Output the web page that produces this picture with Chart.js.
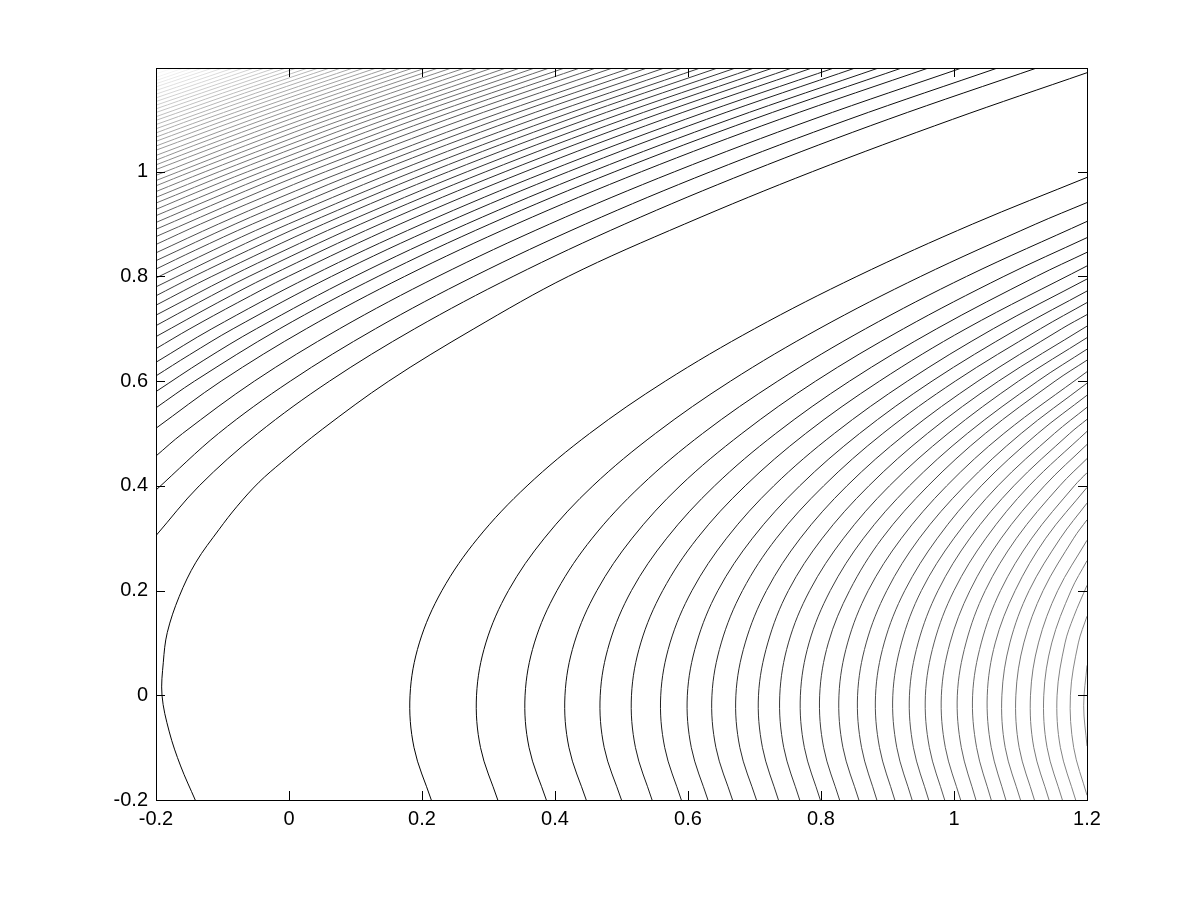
<!DOCTYPE html>
<html>
<head>
<meta charset="utf-8">
<script src="https://cdn.jsdelivr.net/npm/chart.js@4.4.1/dist/chart.umd.min.js"></script>
<style>
  html, body { margin: 0; padding: 0; background: #fff; }
  #wrap { width: 1201px; height: 900px; }
</style>
</head>
<body>
<div id="wrap"><canvas id="grafica" width="1201" height="900"></canvas></div>
<script>
// axis ticks
const xTicks = [-0.2, 0, 0.2, 0.4, 0.6, 0.8, 1, 1.2];
const yTicks = [-0.2, 0, 0.2, 0.4, 0.6, 0.8, 1];

// level of each contour (only used for the grey shade of the line)
const valleyLevel = 0.036;
const upperLevels = [
    0.082, 0.120, 0.160, 0.203, 0.240, 0.276, 0.314, 0.350, 0.391, 0.429,
    0.468, 0.507, 0.548, 0.588, 0.629, 0.672, 0.717, 0.762, 0.810, 0.856,
    0.902, 0.948, 0.994, 1.040, 1.086, 1.132, 1.178, 1.224, 1.270, 1.316,
    1.362, 1.408, 1.454, 1.500, 1.546, 1.592, 1.638, 1.684, 1.730, 1.776,
    1.822, 1.868, 1.914, 1.960, 2.006, 2.052, 2.098, 2.144, 2.190, 2.236,
    2.282, 2.328, 2.374, 2.420, 2.466, 2.512, 2.558
];
const rightLevels = [
    0.033, 0.080, 0.126, 0.172, 0.219, 0.266, 0.312, 0.359, 0.405, 0.452,
    0.498, 0.545, 0.591, 0.637, 0.684, 0.731, 0.778, 0.824, 0.870, 0.916,
    0.962, 1.010, 1.056, 1.102, 1.149, 1.195, 1.243, 1.288, 1.334, 1.381,
    1.428
];

// lowest contour on the left, turning round near x = -0.19
const valleyCurve = [
    [-0.141, -0.2], [-0.163, -0.135], [-0.180, -0.07], [-0.191, 0.0], [-0.189, 0.063],
    [-0.183, 0.12], [-0.165, 0.189], [-0.140, 0.254], [-0.105, 0.317], [-0.078, 0.361],
    [-0.045, 0.407], [-0.011, 0.445], [0.050, 0.508], [0.150, 0.6], [0.278, 0.7],
    [0.420, 0.8], [0.595, 0.9], [0.787, 1.0], [0.998, 1.1], [1.2, 1.189]
];

// contours that come in from the left edge and leave at the top
const upperContours = [
    [[-0.2, 0.305], [-0.135, 0.4], [-0.047, 0.5], [0.061, 0.6], [0.189, 0.7], [0.337, 0.8], [0.505, 0.9], [0.693, 1.0], [0.901, 1.1], [1.129, 1.2]],
    [[-0.2, 0.392], [-0.106, 0.5], [0.002, 0.6], [0.130, 0.7], [0.278, 0.8], [0.446, 0.9], [0.634, 1.0], [0.842, 1.1], [1.070, 1.2]],
    [[-0.2, 0.457], [-0.160, 0.5], [-0.052, 0.6], [0.076, 0.7], [0.224, 0.8], [0.392, 0.9], [0.580, 1.0], [0.788, 1.1], [1.016, 1.2]],
    [[-0.2, 0.510], [-0.102, 0.6], [0.026, 0.7], [0.174, 0.8], [0.342, 0.9], [0.530, 1.0], [0.738, 1.1], [0.966, 1.2]],
    [[-0.2, 0.549], [-0.142, 0.6], [-0.014, 0.7], [0.134, 0.8], [0.302, 0.9], [0.490, 1.0], [0.698, 1.1], [0.926, 1.2]],
    [[-0.2, 0.580], [-0.128, 0.64], [-0.049, 0.7], [0.099, 0.8], [0.267, 0.9], [0.455, 1.0], [0.663, 1.1], [0.891, 1.2]],
    [[-0.2, 0.610], [-0.150, 0.65], [-0.084, 0.7], [0.064, 0.8], [0.232, 0.9], [0.420, 1.0], [0.628, 1.1], [0.856, 1.2]],
    [[-0.2, 0.636], [-0.116, 0.7], [0.032, 0.8], [0.200, 0.9], [0.388, 1.0], [0.596, 1.1], [0.824, 1.2]],
    [[-0.2, 0.662], [-0.149, 0.7], [-0.077, 0.75], [-0.001, 0.8], [0.167, 0.9], [0.355, 1.0], [0.563, 1.1], [0.791, 1.2]],
    [[-0.2, 0.685], [-0.107, 0.75], [-0.031, 0.8], [0.137, 0.9], [0.325, 1.0], [0.533, 1.1], [0.761, 1.2]],
    [[-0.2, 0.706], [-0.136, 0.75], [-0.060, 0.8], [0.108, 0.9], [0.296, 1.0], [0.504, 1.1], [0.732, 1.2]],
    [[-0.2, 0.726], [-0.088, 0.8], [-0.006, 0.85], [0.080, 0.9], [0.268, 1.0], [0.476, 1.1], [0.704, 1.2]],
    [[-0.2, 0.745], [-0.116, 0.8], [0.052, 0.9], [0.240, 1.0], [0.448, 1.1], [0.676, 1.2]],
    [[-0.2, 0.763], [-0.143, 0.8], [-0.061, 0.85], [0.025, 0.9], [0.213, 1.0], [0.421, 1.1], [0.649, 1.2]],
    [[-0.2, 0.780], [-0.087, 0.85], [-0.001, 0.9], [0.187, 1.0], [0.395, 1.1], [0.623, 1.2]],
    [[-0.2, 0.797], [-0.114, 0.85], [-0.028, 0.9], [0.160, 1.0], [0.368, 1.1], [0.596, 1.2]],
    [[-0.2, 0.814], [-0.141, 0.85], [-0.055, 0.9], [0.133, 1.0], [0.341, 1.1], [0.569, 1.2]],
    [[-0.2, 0.830], [-0.081, 0.9], [0.011, 0.95], [0.107, 1.0], [0.315, 1.1], [0.543, 1.2]],
    [[-0.2, 0.845], [-0.106, 0.9], [-0.015, 0.95], [0.082, 1.0], [0.290, 1.1], [0.518, 1.2]],
    [[-0.2, 0.861], [-0.133, 0.9], [-0.041, 0.95], [0.055, 1.0], [0.263, 1.1], [0.491, 1.2]],
    [[-0.2, 0.876], [-0.066, 0.95], [0.030, 1.0], [0.238, 1.1], [0.466, 1.2]],
    [[-0.2, 0.890], [-0.090, 0.95], [0.006, 1.0], [0.214, 1.1], [0.442, 1.2]],
    [[-0.2, 0.903], [-0.113, 0.95], [-0.017, 1.0], [0.191, 1.1], [0.419, 1.2]],
    [[-0.2, 0.916], [-0.136, 0.95], [-0.040, 1.0], [0.168, 1.1], [0.396, 1.2]],
    [[-0.2, 0.928], [-0.140, 0.96], [-0.062, 1.0], [0.146, 1.1], [0.374, 1.2]],
    [[-0.2, 0.940], [-0.084, 1.0], [0.018, 1.05], [0.124, 1.1], [0.352, 1.2]],
    [[-0.2, 0.951], [-0.105, 1.0], [-0.003, 1.05], [0.103, 1.1], [0.331, 1.2]],
    [[-0.2, 0.962], [-0.126, 1.0], [-0.024, 1.05], [0.082, 1.1], [0.310, 1.2]],
    [[-0.2, 0.973], [-0.147, 1.0], [-0.045, 1.05], [0.061, 1.1], [0.289, 1.2]],
    [[-0.2, 0.983], [-0.065, 1.05], [0.041, 1.1], [0.153, 1.15], [0.269, 1.2]],
    [[-0.2, 0.993], [-0.085, 1.05], [0.021, 1.1], [0.133, 1.15], [0.249, 1.2]],
    [[-0.2, 1.004], [-0.105, 1.05], [0.001, 1.1], [0.113, 1.15], [0.229, 1.2]],
    [[-0.2, 1.013], [-0.124, 1.05], [-0.018, 1.1], [0.094, 1.15], [0.210, 1.2]],
    [[-0.2, 1.022], [-0.143, 1.05], [-0.037, 1.1], [0.075, 1.15], [0.191, 1.2]],
    [[-0.2, 1.031], [-0.055, 1.1], [0.057, 1.15], [0.173, 1.2]],
    [[-0.2, 1.041], [-0.074, 1.1], [0.038, 1.15], [0.154, 1.2]],
    [[-0.2, 1.049], [-0.092, 1.1], [0.020, 1.15], [0.136, 1.2]],
    [[-0.2, 1.058], [-0.110, 1.1], [0.002, 1.15], [0.118, 1.2]],
    [[-0.2, 1.066], [-0.127, 1.1], [-0.015, 1.15], [0.101, 1.2]],
    [[-0.2, 1.074], [-0.145, 1.1], [-0.033, 1.15], [0.083, 1.2]],
    [[-0.2, 1.082], [-0.050, 1.15], [0.066, 1.2]],
    [[-0.2, 1.090], [-0.067, 1.15], [0.049, 1.2]],
    [[-0.2, 1.098], [-0.083, 1.15], [0.033, 1.2]],
    [[-0.2, 1.105], [-0.100, 1.15], [0.016, 1.2]],
    [[-0.2, 1.113], [-0.116, 1.15], [0.000, 1.2]],
    [[-0.2, 1.120], [-0.132, 1.15], [-0.016, 1.2]],
    [[-0.2, 1.127], [-0.032, 1.2]],
    [[-0.2, 1.134], [-0.048, 1.2]],
    [[-0.2, 1.141], [-0.064, 1.2]],
    [[-0.2, 1.148], [-0.079, 1.2]],
    [[-0.2, 1.155], [-0.095, 1.2]],
    [[-0.2, 1.162], [-0.110, 1.2]],
    [[-0.2, 1.168], [-0.125, 1.2]],
    [[-0.2, 1.174], [-0.140, 1.2]],
    [[-0.2, 1.180], [-0.154, 1.2]],
    [[-0.2, 1.187], [-0.169, 1.2]],
    [[-0.2, 1.193], [-0.183, 1.2]]
];

// contours opening to the right (from the bottom edge round to the right edge)
const rightContours = [
    [[0.214, -0.2], [0.188, -0.1], [0.182, 0], [0.196, 0.1], [0.230, 0.2], [0.284, 0.3], [0.358, 0.4], [0.452, 0.5], [0.566, 0.6], [0.700, 0.7], [0.854, 0.8], [1.028, 0.9], [1.2, 0.989]],
    [[0.314, -0.2], [0.288, -0.1], [0.282, 0], [0.296, 0.1], [0.330, 0.2], [0.384, 0.3], [0.457, 0.4], [0.551, 0.5], [0.664, 0.6], [0.797, 0.7], [0.950, 0.8], [1.123, 0.9], [1.2, 0.941]],
    [[0.387, -0.2], [0.361, -0.1], [0.355, 0], [0.369, 0.1], [0.403, 0.2], [0.456, 0.3], [0.529, 0.4], [0.622, 0.5], [0.735, 0.6], [0.867, 0.7], [1.019, 0.8], [1.2, 0.905]],
    [[0.447, -0.2], [0.421, -0.1], [0.415, 0], [0.429, 0.1], [0.463, 0.2], [0.516, 0.3], [0.588, 0.4], [0.681, 0.5], [0.792, 0.6], [0.924, 0.7], [1.075, 0.8], [1.2, 0.874]],
    [[0.500, -0.2], [0.474, -0.1], [0.468, 0], [0.482, 0.1], [0.515, 0.2], [0.568, 0.3], [0.640, 0.4], [0.732, 0.5], [0.843, 0.6], [0.974, 0.7], [1.124, 0.8], [1.2, 0.846]],
    [[0.546, -0.2], [0.521, -0.1], [0.515, 0], [0.529, 0.1], [0.562, 0.2], [0.614, 0.3], [0.686, 0.4], [0.777, 0.5], [0.888, 0.6], [1.018, 0.7], [1.2, 0.820]],
    [[0.590, -0.2], [0.565, -0.1], [0.559, 0], [0.573, 0.1], [0.606, 0.2], [0.658, 0.3], [0.729, 0.4], [0.820, 0.5], [0.930, 0.6], [1.059, 0.7], [1.2, 0.795]],
    [[0.630, -0.2], [0.605, -0.1], [0.599, 0], [0.613, 0.1], [0.645, 0.2], [0.697, 0.3], [0.768, 0.4], [0.858, 0.5], [0.967, 0.6], [1.096, 0.7], [1.2, 0.772]],
    [[0.667, -0.2], [0.642, -0.1], [0.636, 0], [0.650, 0.1], [0.682, 0.2], [0.733, 0.3], [0.804, 0.4], [0.893, 0.5], [1.002, 0.6], [1.130, 0.7], [1.2, 0.750]],
    [[0.703, -0.2], [0.678, -0.1], [0.672, 0], [0.686, 0.1], [0.718, 0.2], [0.769, 0.3], [0.839, 0.4], [0.928, 0.5], [1.036, 0.6], [1.162, 0.7], [1.2, 0.727]],
    [[0.736, -0.2], [0.712, -0.1], [0.706, 0], [0.720, 0.1], [0.751, 0.2], [0.802, 0.3], [0.872, 0.4], [0.960, 0.5], [1.067, 0.6], [1.2, 0.705]],
    [[0.768, -0.2], [0.744, -0.1], [0.738, 0], [0.751, 0.1], [0.783, 0.2], [0.834, 0.3], [0.903, 0.4], [0.991, 0.5], [1.097, 0.6], [1.2, 0.683]],
    [[0.799, -0.2], [0.775, -0.1], [0.769, 0], [0.782, 0.1], [0.814, 0.2], [0.864, 0.3], [0.933, 0.4], [1.020, 0.5], [1.126, 0.6], [1.2, 0.661]],
    [[0.828, -0.2], [0.804, -0.1], [0.798, 0], [0.811, 0.1], [0.843, 0.2], [0.892, 0.3], [0.961, 0.4], [1.047, 0.5], [1.152, 0.6], [1.2, 0.640]],
    [[0.857, -0.2], [0.833, -0.1], [0.827, 0], [0.840, 0.1], [0.871, 0.2], [0.921, 0.3], [0.989, 0.4], [1.075, 0.5], [1.2, 0.618]],
    [[0.884, -0.2], [0.861, -0.1], [0.855, 0], [0.868, 0.1], [0.899, 0.2], [0.948, 0.3], [1.016, 0.4], [1.101, 0.5], [1.2, 0.596]],
    [[0.911, -0.2], [0.888, -0.1], [0.882, 0], [0.895, 0.1], [0.926, 0.2], [0.975, 0.3], [1.041, 0.4], [1.126, 0.5], [1.2, 0.573]],
    [[0.937, -0.2], [0.914, -0.1], [0.908, 0], [0.921, 0.1], [0.951, 0.2], [1.000, 0.3], [1.066, 0.4], [1.151, 0.5], [1.2, 0.550]],
    [[0.962, -0.2], [0.939, -0.1], [0.933, 0], [0.946, 0.1], [0.976, 0.2], [1.024, 0.3], [1.090, 0.4], [1.174, 0.5], [1.2, 0.527]],
    [[0.986, -0.2], [0.963, -0.1], [0.957, 0], [0.970, 0.1], [1.000, 0.2], [1.048, 0.3], [1.113, 0.4], [1.2, 0.504]],
    [[1.010, -0.2], [0.987, -0.1], [0.981, 0], [0.994, 0.1], [1.024, 0.2], [1.071, 0.3], [1.136, 0.4], [1.2, 0.479]],
    [[1.033, -0.2], [1.011, -0.1], [1.005, 0], [1.018, 0.1], [1.047, 0.2], [1.094, 0.3], [1.159, 0.4], [1.2, 0.452]],
    [[1.056, -0.2], [1.034, -0.1], [1.028, 0], [1.041, 0.1], [1.070, 0.2], [1.117, 0.3], [1.181, 0.4], [1.2, 0.425]],
    [[1.078, -0.2], [1.056, -0.1], [1.050, 0], [1.062, 0.1], [1.092, 0.2], [1.138, 0.3], [1.2, 0.397]],
    [[1.100, -0.2], [1.077, -0.1], [1.072, 0], [1.084, 0.1], [1.113, 0.2], [1.160, 0.3], [1.2, 0.367]],
    [[1.121, -0.2], [1.098, -0.1], [1.093, 0], [1.105, 0.1], [1.134, 0.2], [1.180, 0.3], [1.2, 0.335]],
    [[1.143, -0.2], [1.120, -0.1], [1.115, 0], [1.127, 0.1], [1.156, 0.2], [1.2, 0.296]],
    [[1.163, -0.2], [1.140, -0.1], [1.135, 0], [1.147, 0.1], [1.176, 0.2], [1.2, 0.257]],
    [[1.183, -0.2], [1.160, -0.1], [1.155, 0], [1.167, 0.1], [1.180, 0.15], [1.2, 0.210]],
    [[1.2, -0.191], [1.180, -0.1], [1.175, 0], [1.187, 0.1], [1.2, 0.151]],
    [[1.2, -0.097], [1.195, -0.02], [1.2, 0.057]]
];

// grey shade from black (low level) to near white (highest level)
function tono(nivel) {
    const v = Math.round(Math.min(1, nivel / 2.6) * 255);
    return `rgb(${v}, ${v}, ${v})`;
}

function linea(puntos, nivel) {
    return {
        data: puntos.map(p => ({ x: p[0], y: p[1] })),
        showLine: true,
        borderColor: tono(nivel),
        borderWidth: 1,
        pointRadius: 0,
        tension: 0.35,
        fill: false
    };
}

const datasets = [linea(valleyCurve, valleyLevel)];
upperContours.forEach((c, i) => datasets.push(linea(c, upperLevels[i])));
rightContours.forEach((c, i) => datasets.push(linea(c, rightLevels[i])));

const etiqueta = v => String(Math.round(v * 10) / 10);

// box round the plot and inward tick marks on all four sides
const cajaEjes = {
    id: 'cajaEjes',
    afterDraw(chart) {
        const { ctx, chartArea: a, scales } = chart;
        const largo = 9;
        ctx.save();
        ctx.strokeStyle = '#000';
        ctx.lineWidth = 1;
        ctx.strokeRect(Math.round(a.left) + 0.5, Math.round(a.top) + 0.5,
            Math.round(a.right - a.left), Math.round(a.bottom - a.top));
        ctx.beginPath();
        xTicks.forEach(v => {
            const px = Math.round(scales.x.getPixelForValue(v)) + 0.5;
            ctx.moveTo(px, a.bottom); ctx.lineTo(px, a.bottom - largo);
            ctx.moveTo(px, a.top); ctx.lineTo(px, a.top + largo);
        });
        yTicks.forEach(v => {
            const py = Math.round(scales.y.getPixelForValue(v)) + 0.5;
            ctx.moveTo(a.left, py); ctx.lineTo(a.left + largo, py);
            ctx.moveTo(a.right, py); ctx.lineTo(a.right - largo, py);
        });
        ctx.stroke();
        ctx.restore();
    }
};

Chart.defaults.font.family = '"Liberation Sans", Arial, sans-serif';

new Chart(document.getElementById('grafica').getContext('2d'), {
    type: 'scatter',
    data: { datasets },
    options: {
        responsive: false,
        animation: false,
        events: [],
        layout: { padding: { left: 0, right: 114, top: 68, bottom: 0 } },
        plugins: { legend: { display: false }, tooltip: { enabled: false } },
        scales: {
            x: {
                type: 'linear',
                min: -0.2,
                max: 1.2,
                afterBuildTicks: s => { s.ticks = xTicks.map(v => ({ value: v })); },
                afterFit: s => { s.height = 100; },
                grid: { display: false, drawTicks: false },
                border: { display: false },
                ticks: { padding: 7, color: '#000', font: { size: 20 }, maxRotation: 0, autoSkip: false, callback: etiqueta }
            },
            y: {
                type: 'linear',
                min: -0.2,
                max: 1.198,
                afterBuildTicks: s => { s.ticks = yTicks.map(v => ({ value: v })); },
                afterFit: s => { s.width = 156; },
                grid: { display: false, drawTicks: false },
                border: { display: false },
                ticks: { padding: 8, color: '#000', font: { size: 20 }, autoSkip: false, callback: etiqueta }
            }
        }
    },
    plugins: [cajaEjes]
});
</script>
</body>
</html>
